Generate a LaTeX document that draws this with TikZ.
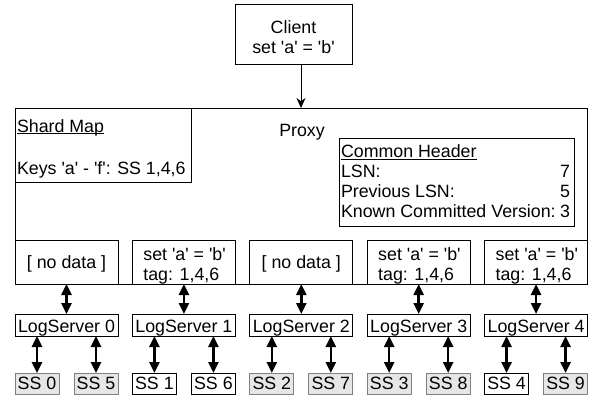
\documentclass[tikz,border=0pt]{standalone}
\usepackage{fontspec}
\setmainfont{Liberation Sans}[Ligatures=TeXOff]
\usetikzlibrary{arrows.meta}
\definecolor{ssfill}{HTML}{E6E6E6}
\definecolor{ssdraw}{HTML}{808080}
\newcommand\ulin[1]{\setbox0=\hbox{#1}\rlap{\rule[-1.9pt]{\wd0}{0.9pt}}\box0}
\begin{document}
\begin{tikzpicture}[x=1pt,y=-1pt,
  box/.style={draw=black,line width=1pt,fill=white,inner sep=0pt,outer sep=0pt},
  ssg/.style={draw=ssdraw,line width=1pt,fill=ssfill,inner sep=0pt,outer sep=0pt,minimum width=44pt,minimum height=21pt},
  ssw/.style={draw=black,line width=1pt,fill=white,inner sep=0pt,outer sep=0pt,minimum width=44pt,minimum height=21pt},
  txt/.style={inner sep=0pt,outer sep=0pt,font=\fontsize{17.8}{20.5}\selectfont},
  bi/.style={line width=2.5pt,{Triangle[length=11pt,width=10pt]}-{Triangle[length=11pt,width=10pt]}},
  one/.style={line width=1pt,-{Stealth[length=10pt,width=9pt]}}
]
\useasboundingbox (0,0) rectangle (594,404);
% client
\node[box,minimum width=117pt,minimum height=60pt] (client) at (293.5,34.5) {};
\node[txt,anchor=base] (clientl1) at (293.5,33.4) {Client};
\node[txt,anchor=base] (clientl2) at (293.5,54) {set 'a' = 'b'};
% proxy
\node[box,minimum width=572pt,minimum height=176pt] (proxy) at (301,196) {};
\node[txt,anchor=base] (proxyl) at (302,136) {Proxy};
\draw[one] (client.south -| proxy.north) -- (proxy.north);
% shard map
\node[box,minimum width=176pt,minimum height=74pt] (shard) at (103,145) {};
\node[txt,anchor=base west] (shardt) at (17,132) {\ulin{Shard Map}};
\node[txt,anchor=base west] (shardk) at (17,174) {Keys 'a' - 'f': SS 1,4,6};
% common header
\node[box,minimum width=235pt,minimum height=88pt] (hdr) at (456.5,182) {};
\node[txt,anchor=base west] (hdrt) at (341,157.7) {\ulin{Common Header}};
\node[txt,anchor=base west] (hdra) at (341,177.3) {LSN:};
\node[txt,anchor=base east] (hdrav) at (570,177.3) {7};
\node[txt,anchor=base west] (hdrb) at (341,197) {Previous LSN:};
\node[txt,anchor=base east] (hdrbv) at (570,197) {5};
\node[txt,anchor=base west] (hdrc) at (341,217.8) {Known Committed Version:};
\node[txt,anchor=base east] (hdrcv) at (570,217.8) {3};
% columns
\foreach \i/\l/\r/\lf/\rf/\dat in {0/0/5/ssg/ssg/0, 1/1/6/ssw/ssw/1, 2/2/7/ssg/ssg/0, 3/3/8/ssg/ssg/1, 4/4/9/ssw/ssg/1} {
  \pgfmathsetmacro\cx{66.5+117.4*\i}
  \node[box,minimum width=103pt,minimum height=44pt] (d\i) at (\cx,262) {};
  \ifnum\dat=1
    \node[txt,anchor=base west] (da\i) at (\cx-40.5,260.7) {set 'a' = 'b'};
    \node[txt,anchor=base west] (db\i) at (\cx-40.5,280) {tag: 1,4,6};
  \else
    \node[txt,anchor=base] (da\i) at (\cx,268) {[ no data ]};
  \fi
  \node[box,minimum width=103pt,minimum height=22pt] (ls\i) at (\cx,325) {};
  \node[txt,anchor=base] (lst\i) at (\cx,332.7) {LogServer \i};
  \node[\lf] (ss\l) at (\cx-29.5,383.5) {};
  \node[txt,anchor=base] (sst\l) at (\cx-29.5,389.5) {SS \l};
  \node[\rf] (ss\r) at (\cx+29.5,383.5) {};
  \node[txt,anchor=base] (sst\r) at (\cx+29.5,389.5) {SS \r};
  \draw[bi] (d\i.south) -- (ls\i.north);
  \draw[bi] (ls\i.south -| ss\l.north) -- (ss\l.north);
  \draw[bi] (ls\i.south -| ss\r.north) -- (ss\r.north);
}
\end{tikzpicture}
\end{document}
